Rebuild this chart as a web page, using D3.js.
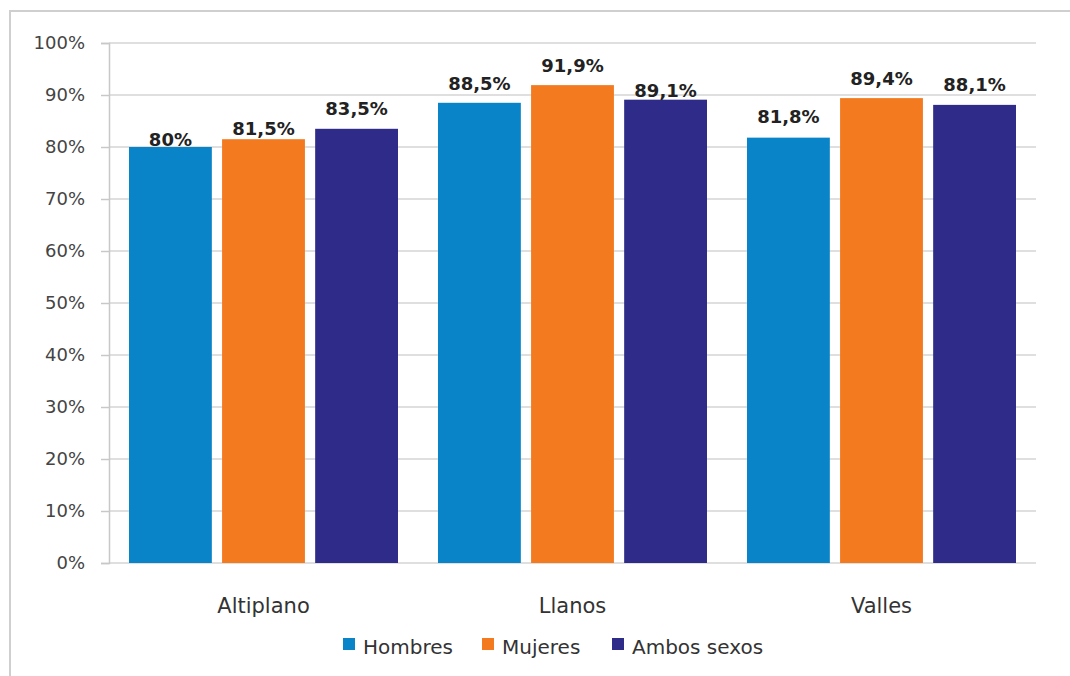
<!DOCTYPE html>
<html><head><meta charset="utf-8">
<script src="https://cdn.jsdelivr.net/npm/d3@7"></script>
<style>body{margin:0;background:#fff}svg{display:block}</style>
</head><body><svg id="c" width="1070" height="676"></svg>
<script>
const categories = ["Altiplano", "Llanos", "Valles"];
const seriesNames = ["Hombres", "Mujeres", "Ambos sexos"];
const hombres = [80, 88.5, 81.8];
const mujeres = [81.5, 91.9, 89.4];
const ambos = [83.5, 89.1, 88.1];
const valueLabels = [["80%", "81,5%", "83,5%"], ["88,5%", "91,9%", "89,1%"], ["81,8%", "89,4%", "88,1%"]];
const yTicks = [0, 10, 20, 30, 40, 50, 60, 70, 80, 90, 100];

(function () {
const colors = ["#0a84c8", "#f47a20", "#2f2b88"];
const labelGap = [[1, 4, 14], [13, 13, 3], [15, 13, 14]];
const svg = d3.select("#c");
const font = "'DejaVu Sans', sans-serif";
svg.append("rect").attr("x", 10).attr("y", 11).attr("width", 1080).attr("height", 700)
  .attr("fill", "#fff").attr("stroke", "#cfcfcf").attr("stroke-width", 2);

const pL = 109, pR = 1036, pT = 43, pB = 563;
const x0 = d3.scaleBand().domain(categories).range([pL, pR]).paddingInner(0).paddingOuter(0);
const x1 = d3.scaleBand().domain(seriesNames).range([20, x0.bandwidth() - 20]).paddingInner(0.11).paddingOuter(0);
const y = d3.scaleLinear().domain([0, 100]).range([pB, pT]);

svg.append("g").selectAll("line").data(yTicks).join("line")
  .attr("x1", pL).attr("x2", pR).attr("y1", d => y(d)).attr("y2", d => y(d))
  .attr("stroke", "#d4d4d4").attr("stroke-width", 1.5);

const yAxis = svg.append("g").attr("transform", `translate(${pL},0)`)
  .call(d3.axisLeft(y).tickValues(yTicks).tickFormat(d => d + "%").tickSize(8).tickPadding(16));
yAxis.select(".domain").attr("stroke", "#c8c8c8").attr("stroke-width", 1.5);
yAxis.selectAll(".tick line").attr("stroke", "#c8c8c8").attr("stroke-width", 1.5);
yAxis.selectAll(".tick text").attr("font-family", font).attr("font-size", 18).attr("fill", "#444");

const series = [hombres, mujeres, ambos];
categories.forEach((c, ci) => {
  const g = svg.append("g").attr("transform", `translate(${x0(c)},0)`);
  series.forEach((s, si) => {
    const v = s[ci];
    g.append("rect").attr("x", x1(seriesNames[si])).attr("width", x1.bandwidth())
      .attr("y", y(v)).attr("height", y(0) - y(v)).attr("fill", colors[si]);
    g.append("text").attr("x", x1(seriesNames[si]) + x1.bandwidth() / 2).attr("y", y(v) - labelGap[ci][si])
      .attr("text-anchor", "middle").attr("font-family", font).attr("font-weight", "bold")
      .attr("font-size", 18).attr("fill", "#222").text(valueLabels[ci][si]);
  });
  svg.append("text").attr("x", x0(c) + x0.bandwidth() / 2).attr("y", 613)
    .attr("text-anchor", "middle").attr("font-family", font).attr("font-size", 21)
    .attr("fill", "#333").text(c);
});

const legX = [343, 482, 612];
seriesNames.forEach((n, i) => {
  svg.append("rect").attr("x", legX[i]).attr("y", 638).attr("width", 12).attr("height", 12).attr("fill", colors[i]);
  svg.append("text").attr("x", legX[i] + 20).attr("y", 654).attr("font-family", font)
    .attr("font-size", 20).attr("fill", "#333").text(n);
});
})();
</script></body></html>
